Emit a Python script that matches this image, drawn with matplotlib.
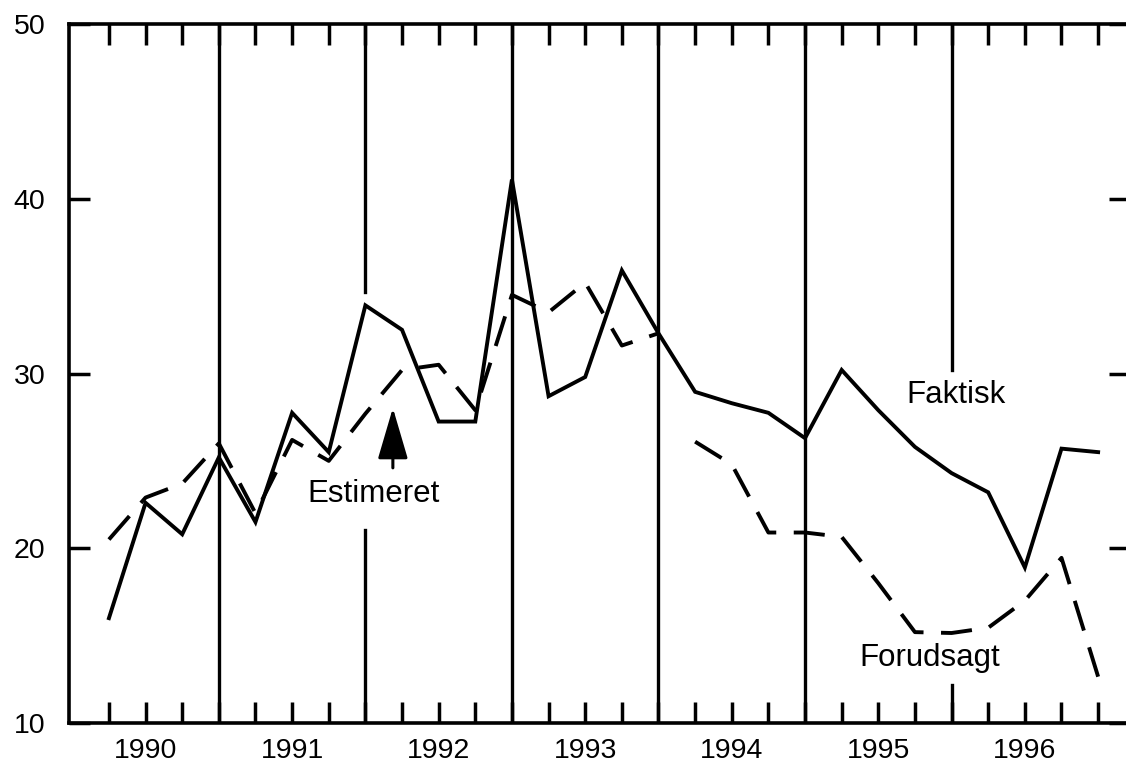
import matplotlib
matplotlib.use('Agg')
import matplotlib.pyplot as plt
import numpy as np

plt.rcParams['font.family'] = ['Liberation Sans', 'DejaVu Sans']

# kvartaler 1990K1 - 1996K4
years = ['1990', '1991', '1992', '1993', '1994', '1995', '1996']
yticks = [10, 20, 30, 40, 50]

faktisk = [16.0, 22.6, 20.8, 25.2, 21.5, 27.75, 25.5, 33.9,
           32.5, 27.25, 27.25, 41.1, 28.7, 29.8, 35.9, 32.3,
           28.95, 28.3, 27.75, 26.3, 30.2, 27.9, 25.8, 24.3,
           23.2, 18.9, 25.7, 25.5]
# estimationsperiode 1990K1-1993K4
estimeret = [20.5, 22.9, 23.7, 26.0, 22.0, 26.2, 25.0, 27.7,
             30.2, 30.5, 27.9, 34.5, 33.5, 35.2, 31.6, 32.3]
# prognose 1994K1-1996K4
forudsagt = [26.1, 24.8, 20.9, 20.9, 20.65, 18.0, 15.2, 15.15,
             15.45, 17.0, 19.45, 12.65]

n = len(faktisk)
x = np.arange(n)
x_est = x[:len(estimeret)]
x_for = x[len(estimeret):]

fig = plt.figure(figsize=(11.26, 7.64), dpi=100)
ax = fig.add_axes([69 / 1126, 41 / 764, (1130 - 69) / 1126, 699 / 764])

ax.set_xlim(-1.09, 27.87)
ax.set_ylim(10, 50)

lw = 2.8
dash = (0, (8, 4.5))

# lodrette streger ved aarsskift (ikke efter sidste aar)
ylo, yhi = ax.get_ylim()
def frac(v):
    return (v - ylo) / (yhi - ylo)

for xb in x[3:-1:4]:
    if xb == 7:
        ax.axvline(xb, ymin=0, ymax=frac(21.05), color='black', lw=2.4)
        ax.axvline(xb, ymin=frac(34.67), ymax=1, color='black', lw=2.4)
    elif xb == 23:
        ax.axvline(xb, ymin=0, ymax=frac(12.2), color='black', lw=2.4)
        ax.axvline(xb, ymin=frac(30.2), ymax=1, color='black', lw=2.4)
    else:
        ax.axvline(xb, color='black', lw=2.4)

ax.plot(x, faktisk, color='black', lw=lw, solid_joinstyle='miter')
ax.plot(x_est, estimeret, color='black', lw=lw, ls=dash)
ax.plot(x_for, forudsagt, color='black', lw=lw, ls=dash)

ax.text(7.23, 23.1, 'Estimeret', ha='center', va='center', fontsize=22.5)
ax.annotate('', xy=(7.75, 28.03), xytext=(7.75, 24.6),
            arrowprops=dict(arrowstyle='-|>,head_length=1.6,head_width=0.47',
                            mutation_scale=20, lw=2.2, color='black',
                            shrinkA=0, shrinkB=0))
ax.text(23.12, 28.78, 'Faktisk', ha='center', va='center', fontsize=22.5)
ax.text(22.41, 13.73, 'Forudsagt', ha='center', va='center', fontsize=22.5)

labels = [years[i // 4] if i % 4 == 1 else '' for i in x]
ax.set_xticks(x)
ax.set_xticklabels(labels)
ax.set_yticks(yticks)
ax.tick_params(axis='both', direction='in', length=15, width=2.5,
               top=True, right=True, labelsize=20.5)
ax.tick_params(axis='x', pad=11)
ax.tick_params(axis='y', pad=17)

for s in ['left', 'top', 'bottom']:
    ax.spines[s].set_linewidth(2.6)
ax.spines['right'].set_visible(False)

plt.savefig('out.png', dpi=100)
